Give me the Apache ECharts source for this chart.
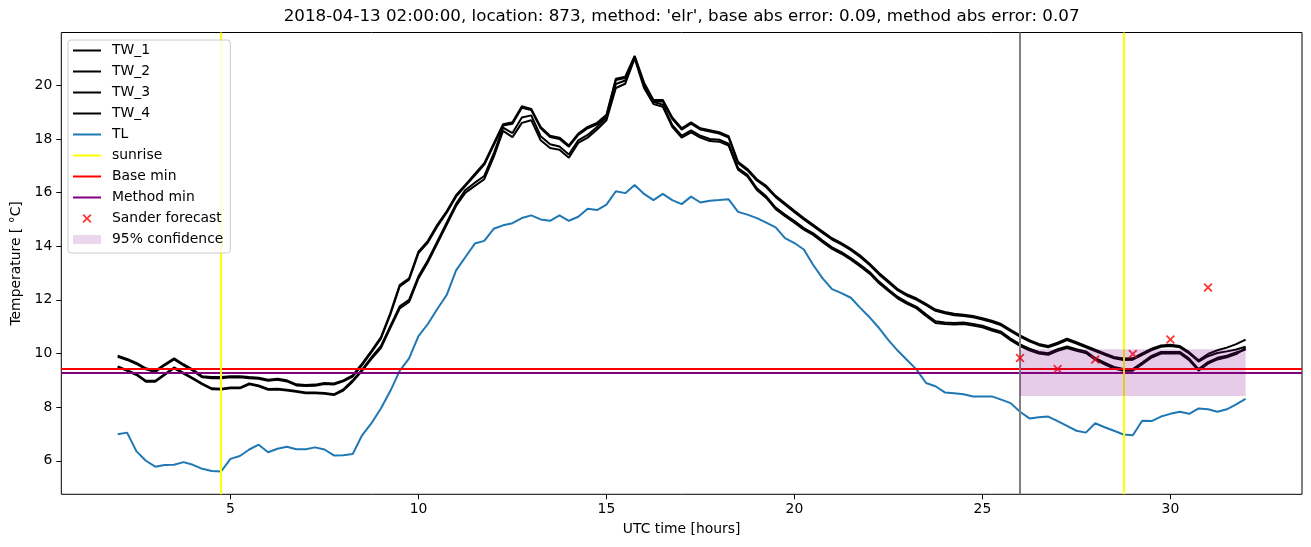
<!DOCTYPE html>
<html>
<head>
<meta charset="utf-8">
<script src="https://cdn.jsdelivr.net/npm/echarts@6/dist/echarts.min.js"></script>
<style>
html,body{margin:0;padding:0;background:#fff;}
#chart{width:1311px;height:547px;}
</style>
</head>
<body>
<div id="chart"></div>
<script>
// ---- data (time axis: 2h .. 32h, sampled every 0.25 h) ----
const hourStart = 2;
const hourStep = 0.25;

const tw1 = [
  9.92, 9.80, 9.65, 9.45, 9.35, 9.60, 9.82, 9.60,
  9.40, 9.15, 9.12, 9.12, 9.15, 9.15, 9.12, 9.10,
  9.02, 9.06, 9.00, 8.85, 8.83, 8.84, 8.90, 8.88,
  9.00, 9.18, 9.62, 10.10, 10.60, 11.50, 12.55, 12.80,
  13.80, 14.20, 14.80, 15.30, 15.90, 16.30, 16.70, 17.10,
  17.82, 18.55, 18.62, 19.22, 19.12, 18.45, 18.12, 18.05,
  17.76, 18.20, 18.45, 18.60, 18.90, 20.25, 20.32, 21.10,
  20.10, 19.45, 19.45, 18.80, 18.40, 18.62, 18.40, 18.33,
  18.25, 18.10, 17.15, 16.88, 16.50, 16.25, 15.88, 15.60,
  15.32, 15.05, 14.80, 14.55, 14.30, 14.12, 13.90, 13.65,
  13.35, 13.00, 12.70, 12.40, 12.20, 12.05, 11.85, 11.64,
  11.55, 11.48, 11.45, 11.40, 11.32, 11.22, 11.10, 10.88,
  10.68, 10.50, 10.36, 10.28, 10.40, 10.55, 10.42, 10.28,
  10.14, 10.00, 9.87, 9.81, 9.82, 10.00, 10.18, 10.30,
  10.33, 10.28, 10.05, 9.75, 9.98, 10.12, 10.22, 10.35,
  10.52
];
const tw2 = [
  9.88, 9.76, 9.61, 9.41, 9.31, 9.56, 9.78, 9.56,
  9.36, 9.11, 9.08, 9.08, 9.11, 9.11, 9.08, 9.06,
  8.98, 9.02, 8.96, 8.81, 8.79, 8.80, 8.86, 8.84,
  8.96, 9.14, 9.57, 10.05, 10.55, 11.45, 12.50, 12.75,
  13.74, 14.14, 14.74, 15.25, 15.85, 16.25, 16.64, 17.04,
  17.76, 18.50, 18.57, 19.16, 19.08, 18.40, 18.07, 18.00,
  17.71, 18.15, 18.40, 18.55, 18.85, 20.20, 20.27, 21.06,
  20.05, 19.40, 19.40, 18.75, 18.35, 18.57, 18.35, 18.28,
  18.20, 18.05, 17.10, 16.83, 16.45, 16.20, 15.83, 15.55,
  15.27, 15.00, 14.75, 14.50, 14.25, 14.07, 13.85, 13.60,
  13.30, 12.95, 12.65, 12.35, 12.15, 12.00, 11.80, 11.59,
  11.50, 11.43, 11.40, 11.35, 11.27, 11.17, 11.05, 10.83,
  10.63, 10.45, 10.31, 10.23, 10.35, 10.50, 10.37, 10.23,
  10.09, 9.95, 9.82, 9.76, 9.77, 9.95, 10.13, 10.25,
  10.28, 10.23, 10.00, 9.70, 9.90, 10.02, 10.08, 10.15,
  10.25
];
const tw3 = [
  9.52, 9.38, 9.23, 8.98, 8.98, 9.23, 9.48, 9.28,
  9.08, 8.88, 8.70, 8.69, 8.73, 8.73, 8.88, 8.81,
  8.68, 8.69, 8.65, 8.60, 8.55, 8.55, 8.53, 8.48,
  8.66, 9.00, 9.40, 9.86, 10.27, 11.02, 11.76, 12.00,
  12.88, 13.48, 14.18, 14.88, 15.58, 16.10, 16.37, 16.62,
  17.45, 18.42, 18.22, 18.80, 18.88, 18.10, 17.80, 17.72,
  17.42, 17.95, 18.15, 18.45, 18.80, 20.05, 20.18, 21.05,
  19.98, 19.38, 19.28, 18.52, 18.12, 18.32, 18.12, 18.00,
  17.97, 17.82, 16.92, 16.66, 16.16, 15.86, 15.44, 15.18,
  14.94, 14.68, 14.48, 14.21, 13.96, 13.78, 13.56, 13.31,
  13.04, 12.68, 12.39, 12.11, 11.91, 11.74, 11.46, 11.20,
  11.16, 11.14, 11.16, 11.10, 11.04, 10.92, 10.81, 10.56,
  10.34, 10.18, 10.06, 10.01, 10.16, 10.26, 10.16, 10.08,
  9.83, 9.66, 9.50, 9.42, 9.42, 9.66, 9.91, 10.06,
  10.06, 10.06, 9.81, 9.42, 9.68, 9.84, 9.92, 10.04,
  10.15
];
const tw4 = [
  9.49, 9.35, 9.20, 8.95, 8.95, 9.20, 9.45, 9.25,
  9.05, 8.85, 8.67, 8.66, 8.70, 8.70, 8.85, 8.78,
  8.65, 8.66, 8.62, 8.57, 8.52, 8.52, 8.50, 8.45,
  8.62, 8.95, 9.35, 9.80, 10.20, 10.95, 11.68, 11.92,
  12.80, 13.40, 14.10, 14.80, 15.50, 16.00, 16.25, 16.50,
  17.32, 18.30, 18.07, 18.60, 18.70, 17.95, 17.66, 17.60,
  17.30, 17.85, 18.05, 18.35, 18.70, 19.90, 20.06, 21.00,
  19.90, 19.30, 19.20, 18.45, 18.05, 18.25, 18.05, 17.92,
  17.90, 17.75, 16.85, 16.60, 16.10, 15.80, 15.38, 15.12,
  14.88, 14.62, 14.42, 14.15, 13.90, 13.72, 13.50, 13.25,
  12.98, 12.62, 12.33, 12.05, 11.85, 11.68, 11.40, 11.14,
  11.10, 11.08, 11.10, 11.04, 10.98, 10.86, 10.75, 10.50,
  10.28, 10.12, 10.00, 9.95, 10.10, 10.20, 10.10, 10.02,
  9.77, 9.60, 9.44, 9.36, 9.36, 9.60, 9.85, 10.00,
  10.00, 10.00, 9.75, 9.36, 9.62, 9.78, 9.86, 9.98,
  10.20
];
const tl = [
  6.99, 7.05, 6.35, 6.00, 5.78, 5.84, 5.85, 5.95,
  5.85, 5.70, 5.62, 5.60, 6.07, 6.18, 6.42, 6.60,
  6.32, 6.45, 6.52, 6.43, 6.43, 6.50, 6.42, 6.20,
  6.21, 6.25, 6.95, 7.40, 7.95, 8.60, 9.35, 9.82,
  10.65, 11.10, 11.66, 12.18, 13.10, 13.60, 14.10, 14.20,
  14.65, 14.78, 14.86, 15.05, 15.15, 15.00, 14.95, 15.15,
  14.95, 15.10, 15.40, 15.35, 15.55, 16.05, 15.98, 16.28,
  15.95, 15.72, 15.95, 15.72, 15.57, 15.85, 15.63, 15.70,
  15.72, 15.75, 15.28, 15.18, 15.05, 14.88, 14.70, 14.30,
  14.12, 13.88, 13.30, 12.80, 12.40, 12.25, 12.08, 11.70,
  11.35, 10.95, 10.50, 10.10, 9.75, 9.40, 8.90, 8.78,
  8.55, 8.52, 8.48, 8.40, 8.40, 8.40, 8.28, 8.15,
  7.83, 7.58, 7.62, 7.65, 7.48, 7.30, 7.12, 7.05,
  7.40, 7.25, 7.12, 6.98, 6.95, 7.49, 7.48, 7.65,
  7.75, 7.83, 7.75, 7.95, 7.92, 7.83, 7.92, 8.10,
  8.31
];

const sunriseHours = [4.75, 28.75];
const forecastStartHour = 26;
const baseMin = 9.42;
const methodMin = 9.28;
const sanderHours = [26, 27, 28, 29, 30, 31];
const sanderTemps = [9.83, 9.42, 9.78, 9.98, 10.52, 12.46];
const confStart = 26, confEnd = 32, confLow = 8.42, confHigh = 10.16;

const xTicks = [5, 10, 15, 20, 25, 30];
const yTicks = [6, 8, 10, 12, 14, 16, 18, 20];

const titleText = "2018-04-13 02:00:00, location: 873, method: 'elr', base abs error: 0.09, method abs error: 0.07";

// ---- chart ----
const FONT = '"DejaVu Sans", "Liberation Sans", sans-serif';
const hours = tw1.map((_, i) => hourStart + i * hourStep);
const pairs = arr => arr.map((v, i) => [hours[i], v]);

function lineSeries(name, arr, color, z) {
  return {
    type: 'line', name: name, data: pairs(arr), symbol: 'none', showSymbol: false,
    lineStyle: { color: color, width: 2 }, itemStyle: { color: color },
    z: z, animation: false, silent: true, emphasis: { disabled: true }
  };
}
function hvSeries(name, color, lineData, z) {
  return {
    type: 'line', name: name, data: [], symbol: 'none',
    lineStyle: { color: color, width: 2 }, itemStyle: { color: color },
    animation: false, silent: true,
    markLine: {
      silent: true, symbol: ['none', 'none'], animation: false, z: z,
      label: { show: false }, emphasis: { disabled: true },
      lineStyle: { color: color, width: 2, type: 'solid' },
      data: lineData
    }
  };
}

const xPath = 'path://M0,0.14 L0.14,0 L0.5,0.36 L0.86,0 L1,0.14 L0.64,0.5 L1,0.86 L0.86,1 L0.5,0.64 L0.14,1 L0,0.86 L0.36,0.5 Z';
const linePath = 'path://M0,0 L28,0 L28,2 L0,2 Z';
const confColor = 'rgba(128,0,128,0.2)';
const lineLegend = (name, color) => ({ name: name, icon: linePath, itemStyle: { color: color, borderWidth: 0 } });

const chart = echarts.init(document.getElementById('chart'), null, { renderer: 'canvas' });
chart.setOption({
  animation: false,
  backgroundColor: '#ffffff',
  textStyle: { fontFamily: FONT },
  graphic: [{
    type: 'text', x: 681.6, y: 17, z: 100,
    style: { text: titleText, font: '16.7px ' + FONT, fill: '#000', align: 'center', verticalAlign: 'middle',
             textAlign: 'center', textVerticalAlign: 'middle' }
  }],
  grid: { left: 61.3, right: 9, top: 32.5, bottom: 52.7, show: true, borderColor: '#000', borderWidth: 1, backgroundColor: 'transparent' },
  legend: {
    orient: 'vertical', left: 68, top: 40, z: 20,
    padding: [0, 7, 3, 5], itemGap: 0, itemWidth: 28, itemHeight: 9,
    backgroundColor: 'rgba(255,255,255,0.8)', borderColor: '#cccccc', borderWidth: 1, borderRadius: 3,
    textStyle: { fontFamily: FONT, fontSize: 13.9, color: '#000', lineHeight: 21, padding: [0, 0, 0, 6] },
    selectedMode: false, symbolKeepAspect: true,
    data: [
      lineLegend('TW_1', '#000000'), lineLegend('TW_2', '#000000'), lineLegend('TW_3', '#000000'),
      lineLegend('TW_4', '#000000'), lineLegend('TL', '#1f77b4'),
      lineLegend('sunrise', '#ffff00'), lineLegend('Base min', '#ff0000'), lineLegend('Method min', '#800080'),
      { name: 'Sander forecast', icon: xPath, itemStyle: { color: '#ff0000' } },
      { name: '95% confidence', icon: 'rect', itemStyle: { color: confColor, borderWidth: 0 } }
    ]
  },
  xAxis: {
    type: 'value', min: 0.5, max: 33.5,
    splitLine: { show: false }, axisLine: { show: false },
    axisTick: { show: true, customValues: xTicks, length: 5, lineStyle: { color: '#000', width: 1 } },
    axisLabel: { customValues: xTicks, margin: 8, color: '#000', fontSize: 13.9, fontFamily: FONT },
    name: 'UTC time [hours]', nameLocation: 'middle', nameGap: 28,
    nameTextStyle: { color: '#000', fontSize: 13.9, fontFamily: FONT }
  },
  yAxis: {
    type: 'value', min: 4.75, max: 21.97,
    splitLine: { show: false }, axisLine: { show: false },
    axisTick: { show: true, customValues: yTicks, length: 5, lineStyle: { color: '#000', width: 1 } },
    axisLabel: { customValues: yTicks, margin: 9, color: '#000', fontSize: 13.9, fontFamily: FONT },
    name: 'Temperature [ °C]', nameLocation: 'middle', nameGap: 33, nameRotate: 90,
    nameTextStyle: { color: '#000', fontSize: 13.9, fontFamily: FONT }
  },
  series: [
    lineSeries('TW_1', tw1, '#000000', 2),
    lineSeries('TW_2', tw2, '#000000', 2),
    lineSeries('TW_3', tw3, '#000000', 2),
    lineSeries('TW_4', tw4, '#000000', 2),
    lineSeries('TL', tl, '#1f77b4', 2),
    hvSeries('sunrise', '#ffff00', sunriseHours.map(h => ({ xAxis: h })), 6),
    hvSeries('Base min', '#ff0000', [{ yAxis: baseMin }], 5),
    hvSeries('Method min', '#800080', [{ yAxis: methodMin }], 5),
    hvSeries('', '#808080', [{ xAxis: forecastStartHour }], 5),
    {
      type: 'scatter', name: 'Sander forecast', data: sanderHours.map((h, i) => [h, sanderTemps[i]]),
      symbol: xPath, symbolSize: 9, itemStyle: { color: '#ff0000' }, z: 7, animation: false, silent: true
    },
    {
      type: 'scatter', name: '95% confidence', data: [], itemStyle: { color: confColor }, animation: false, silent: true,
      markArea: {
        silent: true, z: 8, animation: false, label: { show: false },
        itemStyle: { color: confColor, borderWidth: 0 },
        data: [[{ coord: [confStart, confLow] }, { coord: [confEnd, confHigh] }]]
      }
    }
  ]
});
</script>
</body>
</html>
